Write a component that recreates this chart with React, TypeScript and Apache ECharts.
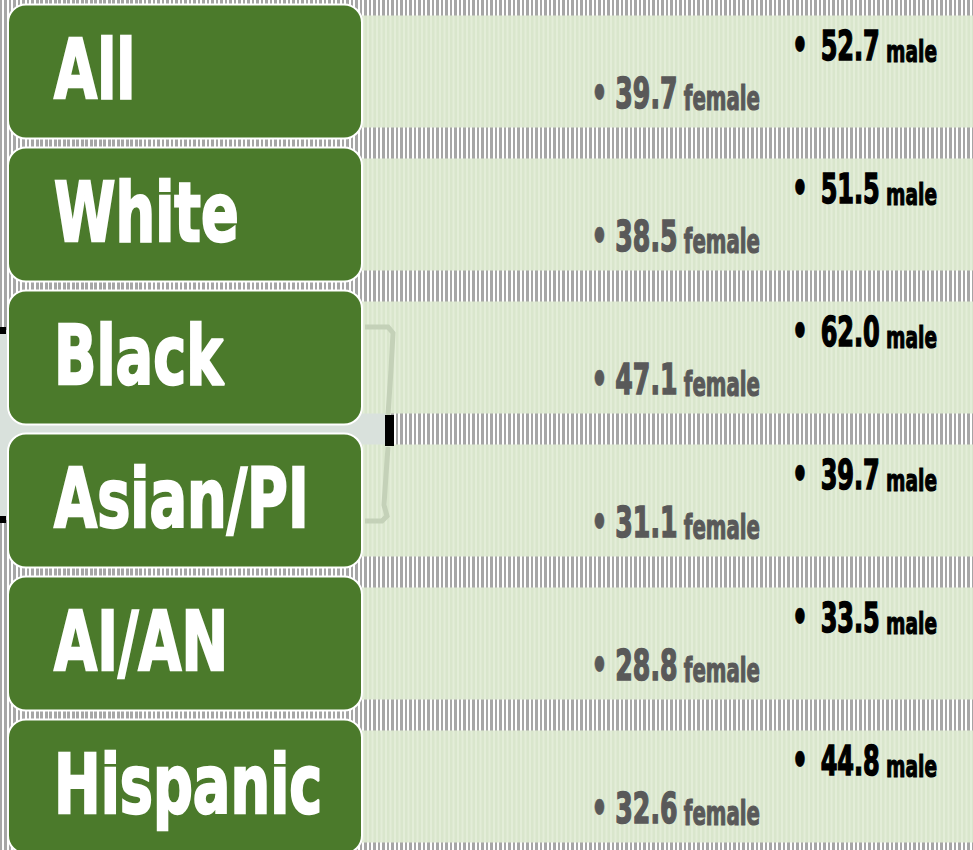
import React, { useEffect, useRef } from 'react';
import * as echarts from 'echarts';

const categories = ['All', 'White', 'Black', 'Asian/PI', 'AI/AN', 'Hispanic'];
const maleValues = [52.7, 51.5, 62.0, 39.7, 33.5, 44.8];
const femaleValues = [39.7, 38.5, 47.1, 31.1, 28.8, 32.6];
const maleUnit = 'male';
const femaleUnit = 'female';

const GREEN = '#4b7a2b';
const FONT = 'DejaVu Sans';

function stripeCanvas(base: string, stripe: string): HTMLCanvasElement {
  const c = document.createElement('canvas');
  c.width = 9;
  c.height = 9;
  const ctx = c.getContext('2d')!;
  ctx.fillStyle = base;
  ctx.fillRect(0, 0, 9, 9);
  ctx.fillStyle = stripe;
  ctx.fillRect(0, 0, 2.5, 9);
  ctx.fillRect(4.5, 0, 2.5, 9);
  return c;
}

function tokenStyles(color: string, bullet: number, value: number, unit: number, gap: number) {
  const base = { fontFamily: FONT, fontWeight: 'bold', fill: color, stroke: color, verticalAlign: 'bottom' };
  return {
    b: { ...base, fontSize: bullet, lineWidth: 0.5, padding: [0, gap, 0, 0] },
    v: { ...base, fontSize: value, lineWidth: 1.6 },
    u: { ...base, fontSize: unit, lineWidth: 1.2 },
  };
}

export default function App() {
  const ref = useRef<HTMLDivElement>(null);

  useEffect(() => {
    if (!ref.current) return;
    const chart = echarts.init(ref.current, undefined, { renderer: 'svg' });
    const bandPattern = { image: stripeCanvas('#e3edd8', '#d9e6cc'), repeat: 'repeat' };

    const data = categories.map((c, i) => [0, i, maleValues[i], femaleValues[i]]);

    const option: any = {
      animation: false,
      backgroundColor: 'transparent',
      grid: { left: 0, right: 0, top: 0, height: 858, containLabel: false },
      xAxis: { type: 'value', min: 0, max: 1, show: false },
      yAxis: { type: 'category', data: categories, inverse: true, show: false },
      graphic: [
        { type: 'rect', z: 0, shape: { x: 0, y: 330, width: 386, height: 190 }, style: { fill: '#d9e1dc' } },
        { type: 'rect', z: 10, shape: { x: 0, y: 327, width: 6, height: 7 }, style: { fill: '#000' } },
        { type: 'rect', z: 10, shape: { x: 0, y: 516, width: 6, height: 7 }, style: { fill: '#000' } },
        {
          type: 'polyline', z: 10,
          shape: { points: [[365, 327], [388, 327], [393, 333], [391, 370], [389, 400], [388, 415]] },
          style: { stroke: '#c4d1b8', lineWidth: 5, fill: 'none' },
        },
        {
          type: 'polyline', z: 10,
          shape: { points: [[388, 447], [386, 475], [384, 505], [387, 516], [382, 521], [365, 521]] },
          style: { stroke: '#c4d1b8', lineWidth: 5, fill: 'none' },
        },
        { type: 'rect', z: 11, shape: { x: 385, y: 415, width: 9, height: 31 }, style: { fill: '#000' } },
      ],
      series: [
        {
          type: 'custom',
          silent: true,
          encode: { x: 0, y: 1 },
          data,
          renderItem: (params: any, api: any) => {
            const idx = api.value(1);
            const cy = api.coord([0, idx])[1];
            const rowH = api.size([0, 1])[1];
            const male = Number(api.value(2)).toFixed(1);
            const female = Number(api.value(3)).toFixed(1);
            const label = categories[idx];
            return {
              type: 'group',
              children: [
                {
                  type: 'rect',
                  shape: { x: 360, y: cy - rowH * 0.392, width: 620, height: rowH * 0.783 },
                  style: { fill: bandPattern },
                },
                {
                  type: 'rect',
                  shape: { x: 8, y: cy - 67, width: 354, height: 134, r: 18 },
                  style: { fill: GREEN, stroke: '#ffffff', lineWidth: 2 },
                },
                {
                  type: 'text',
                  x: 54,
                  y: cy - 2,
                  scaleX: 0.68,
                  style: {
                    text: label,
                    fontFamily: FONT,
                    fontWeight: 'bold',
                    fontSize: 82,
                    fill: '#ffffff',
                    stroke: '#ffffff',
                    lineWidth: 2.5,
                    align: 'left',
                    verticalAlign: 'middle',
                  },
                },
                {
                  type: 'text',
                  x: 937,
                  y: cy - 5,
                  scaleX: 0.6,
                  style: {
                    text: `{b|•} {v|${male}} {u|${maleUnit}}`,
                    fontFamily: FONT,
                    fontWeight: 'bold',
                    fontSize: 30,
                    fill: '#000000',
                    align: 'right',
                    verticalAlign: 'bottom',
                    rich: tokenStyles('#000000', 44, 40, 31, 10),
                  },
                },
                {
                  type: 'text',
                  x: 760,
                  y: cy + 43,
                  scaleX: 0.6,
                  style: {
                    text: `{b|•} {v|${female}} {u|${femaleUnit}}`,
                    fontFamily: FONT,
                    fontWeight: 'bold',
                    fontSize: 30,
                    fill: '#595959',
                    align: 'right',
                    verticalAlign: 'bottom',
                    rich: tokenStyles('#595959', 44, 42, 33, 2),
                  },
                },
              ],
            };
          },
        },
      ],
    };
    chart.setOption(option);
    return () => chart.dispose();
  }, []);

  return (
    <div
      ref={ref}
      style={{
        position: 'fixed',
        left: 0,
        top: 0,
        width: 973,
        height: 860,
        background:
          'repeating-linear-gradient(90deg, #a6a6a6 0px, #a6a6a6 2.5px, #ffffff 2.5px, #ffffff 4.5px)',
      }}
    />
  );
}
